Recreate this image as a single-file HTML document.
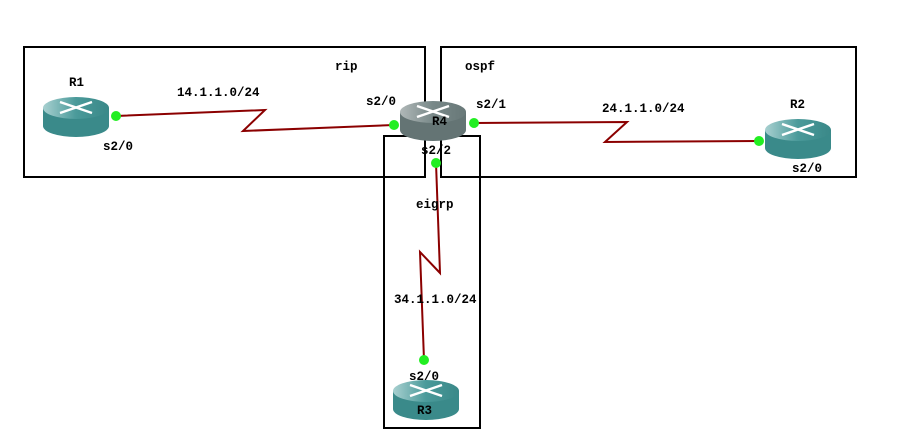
<!DOCTYPE html>
<html><head><meta charset="utf-8"><style>
html,body{margin:0;padding:0;background:#fff;}
text{font-family:"Liberation Mono",monospace;font-weight:bold;font-size:12.5px;fill:#000;}
</style></head><body>
<svg width="921" height="440" xmlns="http://www.w3.org/2000/svg">
<defs>
<linearGradient id="tg" x1="0" x2="1" y1="0" y2="0">
<stop offset="0" stop-color="#a8d0d0"/><stop offset="0.5" stop-color="#4a9a9a"/><stop offset="1" stop-color="#3a8888"/></linearGradient>
<linearGradient id="gg" x1="0" x2="1" y1="0" y2="0">
<stop offset="0" stop-color="#b0b8b8"/><stop offset="0.5" stop-color="#788888"/><stop offset="1" stop-color="#687878"/></linearGradient>
<g id="arrows" stroke="#fff" stroke-width="2.5" fill="none">
<path d="M-16,-6 L16,5 M16,-6 L-16,5"/>
</g>
</defs>
<g fill="none" stroke="#000" stroke-width="2">
<rect x="24" y="47" width="401" height="130"/>
<rect x="441" y="47" width="415" height="130"/>
<rect x="384" y="136" width="96" height="292"/>
</g>
<g stroke="#8b0000" stroke-width="2" fill="none">
<polyline points="116,116 265,110 243,131 394,125"/>
<polyline points="474,123 627,122 605,142 759,141"/>
<polyline points="436,163 440,273 420,252 424,360"/>
</g>
<g transform="translate(76,117)">
<path d="M-33,-9 L-33,9 A33,11 0 0 0 33,9 L33,-9 Z" fill="#3a8a8a"/>
<ellipse cx="0" cy="-9" rx="33" ry="11" fill="url(#tg)"/>
<use href="#arrows" transform="translate(0,-9)"/>
</g>
<g transform="translate(433,121)">
<path d="M-33,-9 L-33,9 A33,11 0 0 0 33,9 L33,-9 Z" fill="#647474"/>
<ellipse cx="0" cy="-9" rx="33" ry="11" fill="url(#gg)"/>
<use href="#arrows" transform="translate(0,-9)"/>
</g>
<g transform="translate(798,139)">
<path d="M-33,-9 L-33,9 A33,11 0 0 0 33,9 L33,-9 Z" fill="#3a8a8a"/>
<ellipse cx="0" cy="-9" rx="33" ry="11" fill="url(#tg)"/>
<use href="#arrows" transform="translate(0,-9)"/>
</g>
<g transform="translate(426,400)">
<path d="M-33,-9 L-33,9 A33,11 0 0 0 33,9 L33,-9 Z" fill="#3a8a8a"/>
<ellipse cx="0" cy="-9" rx="33" ry="11" fill="url(#tg)"/>
<use href="#arrows" transform="translate(0,-9)"/>
</g>
<g fill="#22ee22">
<circle cx="116" cy="116" r="5"/><circle cx="394" cy="125" r="5"/>
<circle cx="474" cy="123" r="5"/><circle cx="759" cy="141" r="5"/>
<circle cx="436" cy="163" r="5"/><circle cx="424" cy="360" r="5"/>
</g>
<text x="69" y="86">R1</text>
<text x="790" y="108">R2</text>
<text x="432" y="125">R4</text>
<text x="417" y="414">R3</text>
<text x="335" y="70">rip</text>
<text x="465" y="70">ospf</text>
<text x="416" y="208">eigrp</text>
<text x="177" y="96">14.1.1.0/24</text>
<text x="602" y="112">24.1.1.0/24</text>
<text x="394" y="303">34.1.1.0/24</text>
<text x="103" y="150">s2/0</text>
<text x="366" y="105">s2/0</text>
<text x="476" y="108">s2/1</text>
<text x="421" y="154">s2/2</text>
<text x="792" y="172">s2/0</text>
<text x="409" y="380">s2/0</text>
</svg>
</body></html>
